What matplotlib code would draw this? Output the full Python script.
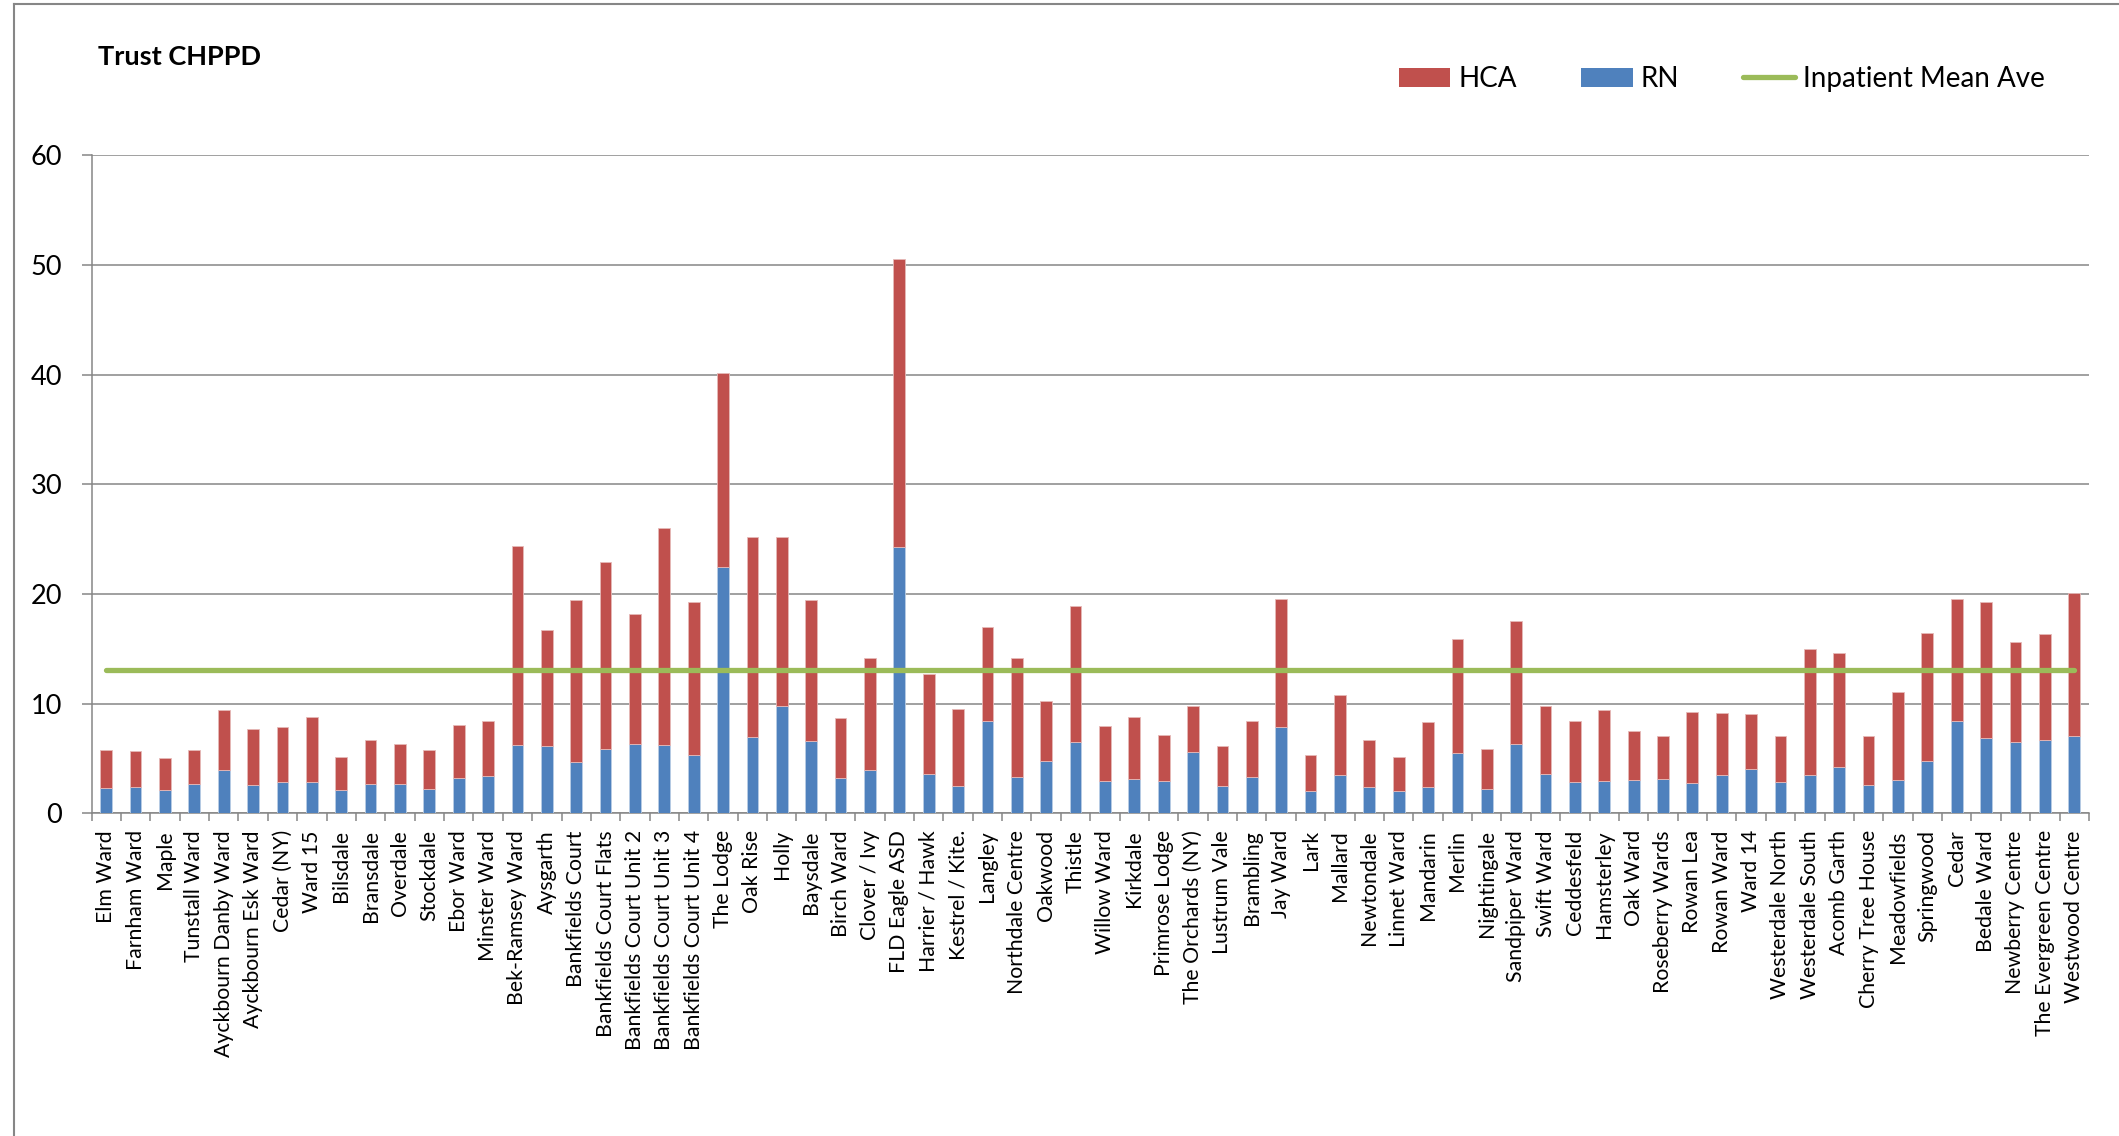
from __future__ import annotations

import matplotlib

matplotlib.use("Agg")
import matplotlib.pyplot as plt
import numpy as np
from matplotlib.lines import Line2D
from matplotlib.patches import Patch


WARDS = [
    "Elm Ward", "Farnham Ward", "Maple", "Tunstall Ward", "Ayckbourn Danby Ward",
    "Ayckbourn Esk Ward", "Cedar (NY)", "Ward 15", "Bilsdale", "Bransdale",
    "Overdale", "Stockdale", "Ebor Ward", "Minster Ward", "Bek-Ramsey Ward",
    "Aysgarth", "Bankfields Court", "Bankfields Court Flats", "Bankfields Court Unit 2",
    "Bankfields Court Unit 3", "Bankfields Court Unit 4", "The Lodge", "Oak Rise",
    "Holly", "Baysdale", "Birch Ward", "Clover / Ivy", "FLD Eagle ASD",
    "Harrier / Hawk", "Kestrel / Kite.", "Langley", "Northdale Centre", "Oakwood",
    "Thistle", "Willow Ward", "Kirkdale", "Primrose Lodge", "The Orchards (NY)",
    "Lustrum Vale", "Brambling", "Jay Ward", "Lark", "Mallard", "Newtondale",
    "Linnet Ward", "Mandarin", "Merlin", "Nightingale", "Sandpiper Ward",
    "Swift Ward", "Ceddesfeld", "Hamsterley", "Oak Ward", "Roseberry Wards",
    "Rowan Lea", "Rowan Ward", "Ward 14", "Westerdale North", "Westerdale South",
    "Acomb Garth", "Cherry Tree House", "Meadowfields", "Springwood", "Cedar",
    "Bedale Ward", "Newberry Centre", "The Evergreen Centre", "Westwood Centre",
]

RN = [
    2.29, 2.37, 2.13, 2.65, 4.01, 2.57, 2.89, 2.89, 2.13, 2.65,
    2.65, 2.21, 3.25, 3.45, 6.26, 6.14, 4.65, 5.84, 6.34, 6.26,
    5.34, 22.47, 6.98, 9.79, 6.58, 3.21, 4.01, 24.32, 3.61, 2.53,
    8.43, 3.33, 4.78, 6.54, 2.97, 3.17, 2.93, 5.58, 2.53, 3.29,
    7.91, 2.09, 3.53, 2.45, 2.01, 2.45, 5.54, 2.25, 6.38, 3.57,
    2.89, 2.93, 3.09, 3.17, 2.81, 3.53, 4.09, 2.89, 3.53, 4.25,
    2.57, 3.01, 4.74, 8.43, 6.86, 6.50, 6.70, 7.02,
]

HCA = [
    3.49, 3.37, 2.97, 3.17, 5.46, 5.13, 5.02, 5.90, 3.01, 4.09,
    3.65, 3.57, 4.82, 4.94, 18.10, 10.55, 14.85, 17.05, 11.88, 19.78,
    13.96, 17.70, 18.18, 15.45, 12.84, 5.46, 10.12, 26.24, 9.15, 7.02,
    8.54, 10.80, 5.49, 12.36, 4.98, 5.66, 4.21, 4.21, 3.65, 5.18,
    11.67, 3.21, 7.30, 4.21, 3.17, 5.86, 10.39, 3.61, 11.20, 6.26,
    5.50, 6.54, 4.41, 3.89, 6.42, 5.66, 5.02, 4.13, 11.44, 10.40,
    4.45, 8.11, 11.75, 11.15, 12.44, 9.11, 9.63, 13.12,
]

INPATIENT_MEAN = 13.04

Y_TICKS = [0, 10, 20, 30, 40, 50, 60]

RED = "#C0504D"
BLUE = "#4F81BD"
GREEN = "#9BBB59"
GREY = "#868686"
FONT = ["Lato", "DejaVu Sans"]


def main() -> None:
    plt.rcParams["font.family"] = FONT

    fig = plt.figure(figsize=(21.19, 11.36), dpi=100)
    ax = fig.add_axes([0.0432, 0.2839, 0.9426, 0.5794])

    x = np.arange(len(WARDS))
    rn = np.asarray(RN)
    hca = np.asarray(HCA)

    ax.bar(x, rn, width=0.4, color=BLUE, edgecolor="#B9CDE5", linewidth=0.6, zorder=3)
    ax.bar(x, hca, width=0.4, bottom=rn, color=RED, edgecolor="#E6B9B8", linewidth=0.6, zorder=3)
    ax.plot(x, np.full(len(x), INPATIENT_MEAN), color=GREEN, linewidth=3.8,
            solid_capstyle="round", zorder=4)

    ax.set_xlim(-0.5, len(WARDS) - 0.5)
    ax.set_ylim(0, 60)
    ax.set_yticks(Y_TICKS)
    ax.set_yticklabels([str(v) for v in Y_TICKS])
    ax.grid(axis="y", color=GREY, linewidth=1.1, zorder=0)
    ax.set_axisbelow(True)

    ax.set_xticks(x)
    ax.set_xticklabels(WARDS, rotation=90, fontsize=15.3, va="top", ha="center")
    ax.set_xticks(np.arange(-0.5, len(WARDS)), minor=True)
    ax.tick_params(axis="x", which="major", length=0, pad=12)
    ax.tick_params(axis="x", which="minor", length=6, width=1.1, color=GREY)
    ax.tick_params(axis="y", length=7, width=1.1, color=GREY, labelsize=19.5, pad=14)

    for side in ("top", "right"):
        ax.spines[side].set_visible(False)
    for side in ("left", "bottom"):
        ax.spines[side].set_color(GREY)
        ax.spines[side].set_linewidth(1.1)

    fig.text(98 / 2119, 1 - 65 / 1136, "Trust CHPPD", fontsize=19.5, fontweight="bold",
             ha="left", va="baseline")

    handles = [
        Patch(facecolor=RED, edgecolor="none"),
        Patch(facecolor=BLUE, edgecolor="none"),
        Line2D([0], [0], color=GREEN, linewidth=3.8, solid_capstyle="round"),
    ]
    fig.legend(handles, ["HCA", "RN", "Inpatient Mean Ave"], loc="center left",
               bbox_to_anchor=(1399 / 2119, 1 - 79 / 1136), ncol=3, frameon=False,
               fontsize=20, handlelength=1.85, handleheight=0.65, handletextpad=0.3,
               columnspacing=2.3, borderpad=0, borderaxespad=0)

    # outer chart frame (only top and left edges show in the crop)
    fig.add_artist(Line2D([14 / 2119, 14 / 2119], [0, 1 - 4 / 1136],
                          transform=fig.transFigure, color=GREY, linewidth=1.5))
    fig.add_artist(Line2D([14 / 2119, 1], [1 - 4 / 1136, 1 - 4 / 1136],
                          transform=fig.transFigure, color=GREY, linewidth=1.5))

    fig.savefig("out.png", dpi=100)
    plt.close(fig)


if __name__ == "__main__":
    main()
